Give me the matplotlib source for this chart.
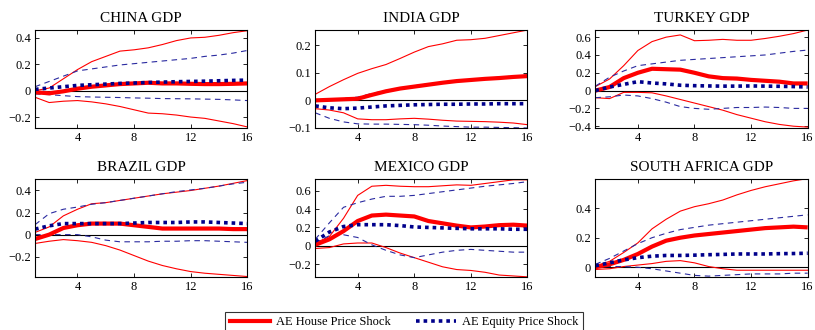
import numpy as np
import matplotlib
matplotlib.use("Agg")
import matplotlib.pyplot as plt
from matplotlib.lines import Line2D

plt.rcParams["font.family"] = ["Liberation Serif", "DejaVu Serif"]

horizon = np.arange(1, 17)

# ---- impulse responses (median + bands) ----
china_house = [-0.012, -0.02, -0.005, 0.015, 0.03, 0.04, 0.05, 0.055, 0.06, 0.055, 0.055, 0.052, 0.05, 0.05, 0.052, 0.055]
china_house_hi = [0.0, 0.02, 0.09, 0.16, 0.22, 0.26, 0.30, 0.31, 0.325, 0.35, 0.38, 0.40, 0.405, 0.42, 0.44, 0.455]
china_house_lo = [-0.05, -0.09, -0.08, -0.075, -0.085, -0.10, -0.12, -0.145, -0.17, -0.175, -0.185, -0.20, -0.21, -0.23, -0.25, -0.275]
china_equity = [0.01, 0.02, 0.03, 0.04, 0.045, 0.05, 0.055, 0.058, 0.062, 0.065, 0.068, 0.07, 0.072, 0.075, 0.078, 0.08]
china_equity_hi = [0.03, 0.07, 0.11, 0.15, 0.165, 0.18, 0.195, 0.205, 0.215, 0.225, 0.235, 0.245, 0.26, 0.27, 0.285, 0.305]
china_equity_lo = [-0.025, -0.03, -0.038, -0.045, -0.048, -0.05, -0.052, -0.055, -0.057, -0.06, -0.061, -0.062, -0.064, -0.066, -0.07, -0.075]

india_house = [0.0, 0.002, 0.004, 0.006, 0.02, 0.033, 0.043, 0.05, 0.057, 0.064, 0.07, 0.074, 0.078, 0.081, 0.085, 0.088]
india_house_hi = [0.022, 0.05, 0.075, 0.098, 0.115, 0.13, 0.152, 0.175, 0.195, 0.205, 0.218, 0.22, 0.225, 0.235, 0.245, 0.255]
india_house_lo = [-0.03, -0.035, -0.045, -0.067, -0.07, -0.07, -0.067, -0.065, -0.068, -0.072, -0.075, -0.076, -0.077, -0.079, -0.082, -0.088]
india_equity = [-0.02, -0.027, -0.03, -0.028, -0.024, -0.02, -0.018, -0.016, -0.015, -0.014, -0.014, -0.013, -0.013, -0.012, -0.012, -0.012]
india_equity_hi = [0.002, 0.004, 0.007, 0.012, 0.025, 0.036, 0.045, 0.053, 0.06, 0.066, 0.072, 0.076, 0.08, 0.084, 0.088, 0.092]
india_equity_lo = [-0.045, -0.065, -0.078, -0.085, -0.086, -0.086, -0.087, -0.088, -0.09, -0.093, -0.095, -0.097, -0.097, -0.098, -0.099, -0.1]

turkey_house = [0.0, 0.04, 0.14, 0.2, 0.245, 0.24, 0.235, 0.2, 0.16, 0.14, 0.135, 0.12, 0.11, 0.1, 0.08, 0.08]
turkey_house_hi = [0.045, 0.13, 0.28, 0.45, 0.55, 0.6, 0.625, 0.56, 0.565, 0.575, 0.565, 0.565, 0.585, 0.61, 0.64, 0.68]
turkey_house_lo = [-0.08, -0.09, -0.02, -0.02, -0.025, -0.06, -0.1, -0.14, -0.18, -0.22, -0.27, -0.31, -0.35, -0.38, -0.4, -0.41]
turkey_equity = [0.0, 0.04, 0.07, 0.1, 0.085, 0.075, 0.06, 0.055, 0.052, 0.05, 0.05, 0.052, 0.05, 0.048, 0.045, 0.04]
turkey_equity_hi = [0.05, 0.15, 0.22, 0.28, 0.3, 0.32, 0.34, 0.35, 0.36, 0.37, 0.38, 0.39, 0.4, 0.42, 0.44, 0.455]
turkey_equity_lo = [-0.08, -0.07, -0.05, -0.06, -0.09, -0.13, -0.18, -0.2, -0.21, -0.2, -0.19, -0.19, -0.185, -0.19, -0.2, -0.2]

brazil_house = [-0.04, 0.0, 0.06, 0.085, 0.1, 0.1, 0.1, 0.085, 0.07, 0.055, 0.055, 0.055, 0.055, 0.055, 0.05, 0.05]
brazil_house_hi = [0.02, 0.07, 0.17, 0.23, 0.28, 0.29, 0.31, 0.33, 0.35, 0.37, 0.385, 0.4, 0.42, 0.44, 0.465, 0.49]
brazil_house_lo = [-0.08, -0.06, -0.045, -0.055, -0.07, -0.1, -0.14, -0.19, -0.24, -0.28, -0.31, -0.335, -0.35, -0.36, -0.37, -0.38]
brazil_equity = [0.05, 0.08, 0.1, 0.1, 0.1, 0.1, 0.1, 0.105, 0.11, 0.11, 0.11, 0.115, 0.115, 0.11, 0.105, 0.1]
brazil_equity_hi = [0.09, 0.19, 0.23, 0.25, 0.275, 0.29, 0.31, 0.33, 0.35, 0.37, 0.39, 0.405, 0.42, 0.44, 0.46, 0.475]
brazil_equity_lo = [0.0, 0.0, 0.0, 0.0, -0.02, -0.05, -0.065, -0.065, -0.065, -0.06, -0.06, -0.055, -0.055, -0.06, -0.065, -0.07]

mexico_house = [0.01, 0.07, 0.16, 0.27, 0.33, 0.34, 0.33, 0.32, 0.27, 0.245, 0.22, 0.2, 0.21, 0.225, 0.23, 0.22]
mexico_house_hi = [0.03, 0.1, 0.3, 0.55, 0.65, 0.66, 0.65, 0.645, 0.645, 0.655, 0.665, 0.66, 0.68, 0.7, 0.72, 0.72]
mexico_house_lo = [-0.03, -0.02, 0.02, 0.03, 0.03, -0.02, -0.08, -0.13, -0.18, -0.23, -0.26, -0.27, -0.29, -0.32, -0.33, -0.34]
mexico_equity = [0.05, 0.15, 0.21, 0.23, 0.23, 0.23, 0.22, 0.205, 0.2, 0.195, 0.19, 0.185, 0.185, 0.185, 0.18, 0.18]
mexico_equity_hi = [0.07, 0.25, 0.42, 0.47, 0.51, 0.54, 0.54, 0.55, 0.57, 0.59, 0.61, 0.63, 0.65, 0.665, 0.68, 0.7]
mexico_equity_lo = [0.03, 0.11, 0.12, 0.09, 0.01, -0.05, -0.1, -0.13, -0.1, -0.07, -0.05, -0.04, -0.05, -0.06, -0.07, -0.07]

safrica_house = [0.0, 0.02, 0.05, 0.09, 0.14, 0.18, 0.2, 0.215, 0.225, 0.235, 0.245, 0.255, 0.265, 0.27, 0.275, 0.27]
safrica_house_hi = [0.01, 0.04, 0.1, 0.165, 0.26, 0.325, 0.38, 0.41, 0.43, 0.455, 0.49, 0.52, 0.545, 0.565, 0.585, 0.6]
safrica_house_lo = [-0.015, -0.01, 0.005, 0.015, 0.025, 0.04, 0.045, 0.03, 0.005, -0.01, -0.02, -0.02, -0.02, -0.02, -0.02, -0.02]
safrica_equity = [0.01, 0.03, 0.05, 0.065, 0.075, 0.08, 0.08, 0.082, 0.085, 0.087, 0.09, 0.09, 0.09, 0.092, 0.093, 0.095]
safrica_equity_hi = [0.02, 0.06, 0.11, 0.16, 0.2, 0.23, 0.255, 0.27, 0.285, 0.295, 0.305, 0.315, 0.325, 0.335, 0.345, 0.355]
safrica_equity_lo = [0.0, 0.005, 0.005, 0.0, -0.01, -0.025, -0.04, -0.055, -0.06, -0.055, -0.05, -0.045, -0.045, -0.045, -0.04, -0.04]

titles = ["CHINA GDP", "INDIA GDP", "TURKEY GDP", "BRAZIL GDP", "MEXICO GDP", "SOUTH AFRICA GDP"]
ylims = [(-0.283, 0.46), (-0.1, 0.255), (-0.42, 0.68), (-0.383, 0.505), (-0.34, 0.73), (-0.065, 0.598)]
yticks = [[-0.2, 0, 0.2, 0.4], [-0.1, 0, 0.1, 0.2], [-0.4, -0.2, 0, 0.2, 0.4, 0.6],
          [-0.2, 0, 0.2, 0.4], [-0.2, 0, 0.2, 0.4, 0.6], [0, 0.2, 0.4]]

panels = [
    (china_house, china_house_hi, china_house_lo, china_equity, china_equity_hi, china_equity_lo),
    (india_house, india_house_hi, india_house_lo, india_equity, india_equity_hi, india_equity_lo),
    (turkey_house, turkey_house_hi, turkey_house_lo, turkey_equity, turkey_equity_hi, turkey_equity_lo),
    (brazil_house, brazil_house_hi, brazil_house_lo, brazil_equity, brazil_equity_hi, brazil_equity_lo),
    (mexico_house, mexico_house_hi, mexico_house_lo, mexico_equity, mexico_equity_hi, mexico_equity_lo),
    (safrica_house, safrica_house_hi, safrica_house_lo, safrica_equity, safrica_equity_hi, safrica_equity_lo),
]

RED = "#ff0000"
NAVY = "#00008b"
BLUE = "#2a2aa0"

fig, axes = plt.subplots(2, 3, figsize=(8.15, 3.3), dpi=100)
fig.subplots_adjust(left=0.043, right=0.991, top=0.909, bottom=0.161,
                    wspace=0.32, hspace=0.52)


def fmt(v):
    if v == 0:
        return "0"
    return f"{v:g}".replace("-", "\u2212")


for ax, title, lim, yt, (h, h_hi, h_lo, e, e_hi, e_lo) in zip(
        axes.flat, titles, ylims, yticks, panels):
    ax.axhline(0, color="black", lw=0.8, zorder=1)
    ax.plot(horizon, h_hi, color=RED, lw=0.8)
    ax.plot(horizon, h_lo, color=RED, lw=0.8)
    ax.plot(horizon, e_hi, color=BLUE, lw=0.8, ls=(0, (5, 4)))
    ax.plot(horizon, e_lo, color=BLUE, lw=0.8, ls=(0, (5, 4)))
    ax.plot(horizon, h, color=RED, lw=3.0, solid_capstyle="butt")
    ax.plot(horizon, e, color=NAVY, lw=2.6, ls=(0, (1, 1.1)))

    ax.set_xlim(1, 16)
    ax.set_ylim(*lim)
    ax.set_xticks([4, 8, 12, 16])
    ax.set_yticks(yt)
    ax.set_yticklabels([fmt(v) for v in yt])
    ax.tick_params(direction="in", top=True, right=True, length=3,
                   width=0.6, labelsize=9, pad=3)
    for sp in ax.spines.values():
        sp.set_linewidth(0.8)
    ax.set_title(title, fontsize=11, pad=6)

handles = [
    Line2D([], [], color=RED, lw=3.0),
    Line2D([], [], color=NAVY, lw=2.6, ls=(0, (1, 1.1))),
]
fig.legend(handles, ["AE House Price Shock", "AE Equity Price Shock"],
           loc="center", bbox_to_anchor=(404 / 815, 1 - 322 / 330), ncol=2,
           fontsize=9, frameon=True, fancybox=False, edgecolor="black",
           handlelength=3.2, columnspacing=2.0, borderpad=0.35,
           handletextpad=0.5).get_frame().set_linewidth(0.8)

fig.savefig("out.png", dpi=100)
